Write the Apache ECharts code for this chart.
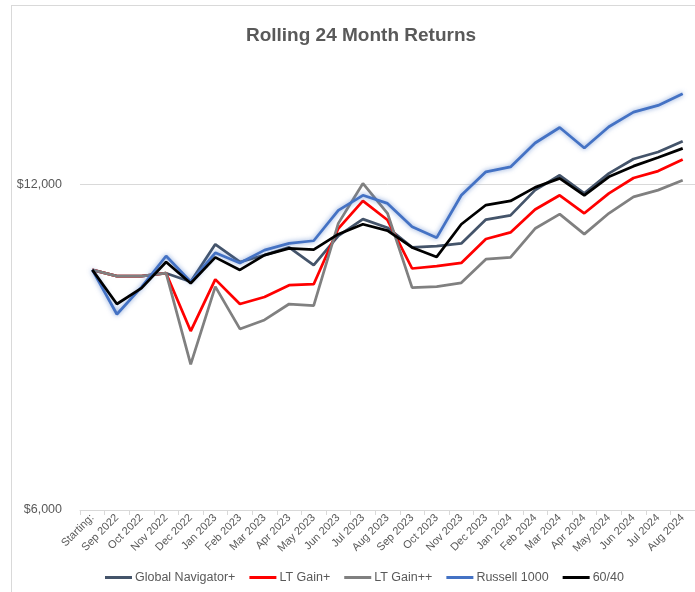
<!DOCTYPE html>
<html>
<head>
<meta charset="utf-8">
<script src="https://cdn.jsdelivr.net/npm/echarts@6/dist/echarts.min.js"></script>
<style>
  html, body { margin: 0; padding: 0; background: #fff; }
  #frame { position: absolute; left: 11px; top: 5px; width: 700px; height: 600px;
           border-left: 1px solid #d9d9d9; border-top: 1px solid #d9d9d9; }
  #main { position: absolute; left: 0; top: 0; width: 695px; height: 592px; }
</style>
</head>
<body>
<div id="frame"></div>
<div id="main"></div>
<script>
// categories (x axis)
const months = ['Starting:', 'Sep 2022', 'Oct 2022', 'Nov 2022', 'Dec 2022', 'Jan 2023', 'Feb 2023',
  'Mar 2023', 'Apr 2023', 'May 2023', 'Jun 2023', 'Jul 2023', 'Aug 2023', 'Sep 2023', 'Oct 2023',
  'Nov 2023', 'Dec 2023', 'Jan 2024', 'Feb 2024', 'Mar 2024', 'Apr 2024', 'May 2024', 'Jun 2024',
  'Jul 2024', 'Aug 2024'];

// growth of $10,000
const globalNav = [10000, 9870, 9870, 9930, 9750, 10560, 10170, 10320, 10490, 10100, 10750, 11140,
  10940, 10490, 10520, 10580, 11130, 11230, 11850, 12230, 11770, 12280, 12660, 12850, 13150];
const ltGain = [10000, 9870, 9870, 9930, 8780, 9800, 9300, 9440, 9680, 9700, 10920, 11580,
  11120, 10030, 10080, 10150, 10680, 10830, 11370, 11720, 11280, 11770, 12160, 12340, 12650];
const ltGainPP = [10000, 9870, 9870, 9930, 8180, 9650, 8820, 8990, 9300, 9270, 11040, 12020,
  11280, 9630, 9650, 9730, 10230, 10270, 10920, 11260, 10790, 11280, 11680, 11850, 12100];
const russell = [10000, 9100, 9640, 10300, 9750, 10370, 10150, 10430, 10580, 10640, 11350, 11720,
  11520, 10960, 10710, 11720, 12320, 12450, 13100, 13540, 12960, 13560, 13990, 14190, 14550];
const sixtyForty = [10000, 9300, 9620, 10170, 9720, 10270, 10000, 10320, 10470, 10440, 10790, 11020,
  10870, 10490, 10280, 11020, 11480, 11580, 11920, 12150, 11720, 12190, 12470, 12700, 12950];

// y axis labels
const yTicks = [6000, 12000];

const grey = '#595959';
const chart = echarts.init(document.getElementById('main'));

function line(name, data, color, extra) {
  return Object.assign({
    name: name,
    type: 'line',
    data: data,
    symbol: 'none',
    lineStyle: { color: color, width: 2.75 },
    itemStyle: { color: color },
    emphasis: { disabled: true }
  }, extra || {});
}

chart.setOption({
  animation: false,
  textStyle: { fontFamily: 'Liberation Sans, Arial, sans-serif' },
  title: {
    text: 'Rolling 24 Month Returns',
    left: 356,
    textAlign: 'center',
    top: 21,
    textStyle: { fontSize: 19, fontWeight: 'bold', color: grey, fontFamily: 'Liberation Sans, Arial, sans-serif' }
  },
  legend: {
    left: 105,
    top: 571,
    padding: 0,
    icon: 'rect',
    itemWidth: 27,
    itemHeight: 3,
    itemGap: 14,
    textStyle: { fontSize: 12.5, color: grey, padding: [0, 0, 0, -2] },
    data: ['Global Navigator+', 'LT Gain+', 'LT Gain++', 'Russell 1000', '60/40']
  },
  grid: { left: 80, top: 49, width: 619, height: 461 },
  xAxis: {
    type: 'category',
    data: months,
    boundaryGap: true,
    axisLine: { lineStyle: { color: '#d9d9d9', width: 1 } },
    axisTick: { show: true, length: 5, lineStyle: { color: '#d9d9d9' } },
    axisLabel: { rotate: 45, fontSize: 11, color: grey, margin: 6, interval: 0 }
  },
  yAxis: {
    type: 'log',
    logBase: 2,
    min: 6000,
    max: 16000,
    axisLine: { show: false },
    axisTick: { show: false, customValues: yTicks },
    axisLabel: {
      customValues: yTicks,
      fontSize: 12.5,
      color: grey,
      margin: 18,
      formatter: v => '$' + Math.round(v).toLocaleString('en-US')
    },
    splitLine: { show: true, lineStyle: { color: '#d9d9d9', width: 1 } }
  },
  series: [
    line('Global Navigator+', globalNav, '#44546a'),
    line('LT Gain+', ltGain, '#ff0000'),
    line('LT Gain++', ltGainPP, '#808080'),
    line('Russell 1000', russell, '#4472c4', {
      lineStyle: { color: '#4472c4', width: 2.75, shadowBlur: 5, shadowColor: 'rgba(68,114,196,0.7)' }
    }),
    line('60/40', sixtyForty, '#000000')
  ]
});
</script>
</body>
</html>
